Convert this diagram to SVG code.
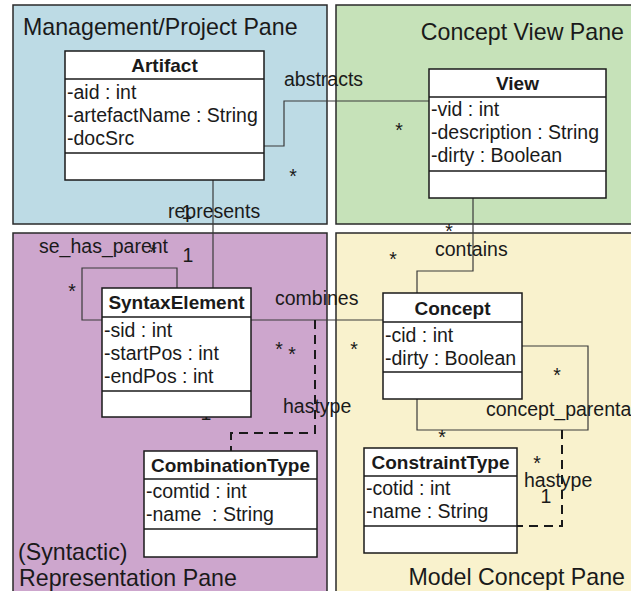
<svg xmlns="http://www.w3.org/2000/svg" width="631" height="591" viewBox="0 0 631 591">
<style>
.pane{stroke:#2a2a2a;stroke-width:1.5}
.box{fill:#fff;stroke:#1a1a1a;stroke-width:1.5}
.sep{stroke:#1a1a1a;stroke-width:1.5}
text{font-family:"Liberation Sans",Arial,sans-serif;font-size:19.5px;fill:#1a1a1a}
.b{font-weight:bold;font-size:19px;text-anchor:middle}
.title{font-size:23.2px}
.m{text-anchor:middle}
.c{fill:none;stroke:#3a3a3a;stroke-width:1.2}
.d{fill:none;stroke:#1a1a1a;stroke-width:2;stroke-dasharray:9,6}
</style>
<rect width="631" height="591" fill="#fff"/>
<g id="panes">
<rect class="pane" x="13" y="5" width="314" height="219" fill="#bddbe5"/>
<rect class="pane" x="336" y="5" width="300" height="219" fill="#c6e2b9"/>
<rect class="pane" x="13" y="233" width="314" height="365" fill="#cda6cd"/>
<rect class="pane" x="336" y="233" width="300" height="365" fill="#f9f2cd"/>
<text class="title" x="23" y="35">Management/Project Pane</text>
<text class="title" x="624" y="40" text-anchor="end">Concept View Pane</text>
<text class="title" x="18" y="560">(Syntactic)</text>
<text class="title" x="19" y="586">Representation Pane</text>
<text class="title" x="625" y="585" text-anchor="end">Model Concept Pane</text>
</g>
<g id="connectors">
<path class="c" d="M264,146 H284 V101 H429"/>
<path class="c" d="M213,180 V288"/>
<path class="c" d="M102,320 H82 V268 H177 V288"/>
<path class="c" d="M251,320 H383"/>
<path class="c" d="M473,198 V271 H417 V293"/>
<path class="c" d="M522,346 H588 V430 H417 V399"/>
<path class="d" d="M315,320 V433 H231 V451"/>
<path class="d" d="M562,430 V526 H517"/>
<text x="284" y="86">abstracts</text>
<text x="168" y="218">represents</text>
<text x="39" y="253">se_has_parent</text>
<text x="275" y="305">combines</text>
<text x="435" y="256">contains</text>
<text x="283" y="413">hastype</text>
<text x="486" y="416">concept_parenta</text>
<text x="524" y="487">hastype</text>
<text class="m" x="293" y="183">*</text>
<text class="m" x="399" y="137">*</text>
<text class="m" x="449" y="238">*</text>
<text class="m" x="393" y="266">*</text>
<text class="m" x="354" y="356">*</text>
<text class="m" x="557" y="382">*</text>
<text class="m" x="442" y="444">*</text>
<text class="m" x="537" y="470">*</text>
<text class="m" x="279" y="356">*</text>
<text class="m" x="292" y="361">*</text>
<text class="m" x="72" y="298">*</text>
<text class="m" x="153" y="259">*</text>
<text class="m" x="187" y="219">1</text>
<text class="m" x="188" y="262">1</text>
<text class="m" x="206" y="420">1</text>
<text class="m" x="546" y="503">1</text>
</g>
<g id="Artifact">
<rect class="box" x="65" y="51" width="199" height="129"/>
<line class="sep" x1="65" y1="79" x2="264" y2="79"/>
<line class="sep" x1="65" y1="153" x2="264" y2="153"/>
<text class="b" x="164.5" y="72">Artifact</text>
<text x="67" y="99">-aid : int</text>
<text x="67" y="122">-artefactName : String</text>
<text x="67" y="145">-docSrc</text>
</g>
<g id="View">
<rect class="box" x="429" y="69" width="177" height="129"/>
<line class="sep" x1="429" y1="97" x2="606" y2="97"/>
<line class="sep" x1="429" y1="171" x2="606" y2="171"/>
<text class="b" x="517.5" y="90">View</text>
<text x="431" y="116">-vid : int</text>
<text x="431" y="139">-description : String</text>
<text x="431" y="162">-dirty : Boolean</text>
</g>
<g id="SyntaxElement">
<rect class="box" x="102" y="288" width="149" height="129"/>
<line class="sep" x1="102" y1="317" x2="251" y2="317"/>
<line class="sep" x1="102" y1="391" x2="251" y2="391"/>
<text class="b" x="176.5" y="309">SyntaxElement</text>
<text x="104" y="337">-sid : int</text>
<text x="104" y="360">-startPos : int</text>
<text x="104" y="383">-endPos : int</text>
</g>
<g id="Concept">
<rect class="box" x="383" y="293" width="139" height="106"/>
<line class="sep" x1="383" y1="322" x2="522" y2="322"/>
<line class="sep" x1="383" y1="372" x2="522" y2="372"/>
<text class="b" x="452.5" y="315">Concept</text>
<text x="385" y="342">-cid : int</text>
<text x="385" y="365">-dirty : Boolean</text>
</g>
<g id="CombinationType">
<rect class="box" x="144" y="451" width="173" height="106"/>
<line class="sep" x1="144" y1="479" x2="317" y2="479"/>
<line class="sep" x1="144" y1="529" x2="317" y2="529"/>
<text class="b" x="230.5" y="472">CombinationType</text>
<text x="146" y="498">-comtid : int</text>
<text x="146" y="521" style="white-space:pre">-name  : String</text>
</g>
<g id="ConstraintType">
<rect class="box" x="364" y="448" width="153" height="105"/>
<line class="sep" x1="364" y1="476" x2="517" y2="476"/>
<line class="sep" x1="364" y1="526" x2="517" y2="526"/>
<text class="b" x="440.5" y="469">ConstraintType</text>
<text x="366" y="495">-cotid : int</text>
<text x="366" y="518">-name : String</text>
</g>
</svg>
